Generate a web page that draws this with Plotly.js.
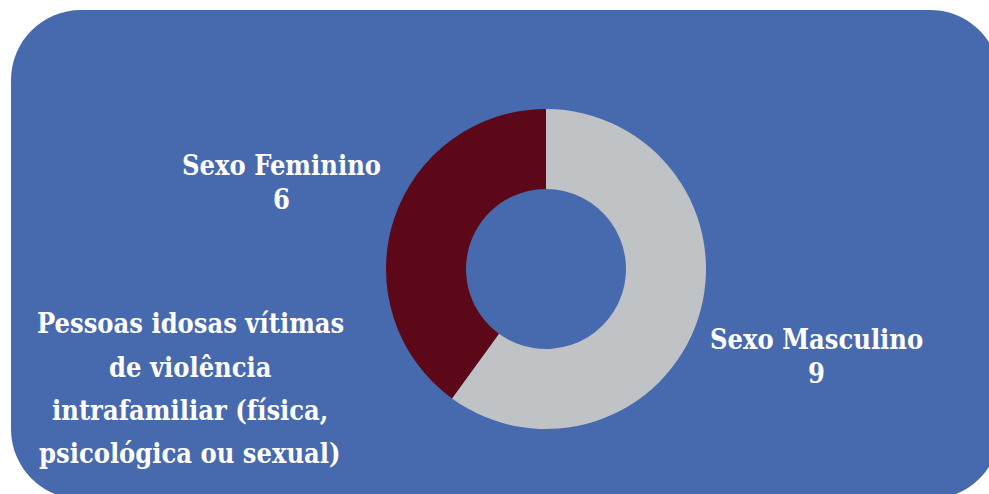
<!DOCTYPE html>
<html>
<head>
<meta charset="utf-8">
<script src="https://cdn.plot.ly/plotly-3.0.1.min.js"></script>
<style>
  html, body { margin: 0; padding: 0; background: #ffffff; }
  #chart { width: 989px; height: 494px; }
</style>
</head>
<body>
<div id="chart"></div>
<script>
// data
const sexLabels = ['Sexo Masculino', 'Sexo Feminino'];
const sexValues = [9, 6];
const sliceColors = ['#bfc3c5', '#5c0819'];
const captionLines = ['Pessoas idosas vítimas', 'de violência', 'intrafamiliar (física,', 'psicológica ou sexual)'];

const W = 989, H = 494;
const px = x => x / W;
const py = y => 1 - y / H;

// rounded blue panel behind the chart (pixel coords -> paper)
function roundedRect(x0, y0, x1, y1, r) {
    const k = 0.5523 * r;
    const p = (x, y) => `${px(x)},${py(y)}`;
    return `M${p(x0 + r, y0)} L${p(x1 - r, y0)} C${p(x1 - r + k, y0)} ${p(x1, y0 + r - k)} ${p(x1, y0 + r)}` +
        ` L${p(x1, y1 - r)} C${p(x1, y1 - r + k)} ${p(x1 - r + k, y1)} ${p(x1 - r, y1)}` +
        ` L${p(x0 + r, y1)} C${p(x0 + r - k, y1)} ${p(x0, y1 - r + k)} ${p(x0, y1 - r)}` +
        ` L${p(x0, y0 + r)} C${p(x0, y0 + r - k)} ${p(x0 + r - k, y0)} ${p(x0 + r, y0)} Z`;
}

const labelFont = { family: 'DejaVu Serif Condensed, DejaVu Serif, serif', size: 27, color: '#ffffff', weight: 'bold' };

function textAt(text, x, y) {
    return {
        text: text, x: px(x), y: py(y), xref: 'paper', yref: 'paper',
        xanchor: 'center', yanchor: 'middle', showarrow: false, font: labelFont
    };
}

const annotations = [
    textAt(sexLabels[1], 281, 166),
    textAt(String(sexValues[1]), 281, 199),
    textAt(sexLabels[0], 816, 339),
    textAt(String(sexValues[0]), 816, 373)
];
const captionY = [323, 367, 410, 453];
captionLines.forEach((line, i) => annotations.push(textAt(line, 190, captionY[i])));

const trace = {
    type: 'pie',
    labels: sexLabels,
    values: sexValues,
    hole: 0.5,
    sort: false,
    direction: 'clockwise',
    rotation: 0,
    textinfo: 'none',
    hoverinfo: 'label+value',
    marker: { colors: sliceColors, line: { width: 0 } },
    domain: { x: [px(386), px(706)], y: [py(429), py(109)] }
};

const layout = {
    width: W,
    height: H,
    margin: { l: 0, r: 0, t: 0, b: 0 },
    paper_bgcolor: '#ffffff',
    showlegend: false,
    shapes: [{
        type: 'path', xref: 'paper', yref: 'paper', layer: 'below',
        path: roundedRect(11, 10, 1000, 499, 70),
        fillcolor: '#4769ae', line: { width: 0 }
    }],
    annotations: annotations
};

Plotly.newPlot('chart', [trace], layout, { displayModeBar: false });
</script>
</body>
</html>
